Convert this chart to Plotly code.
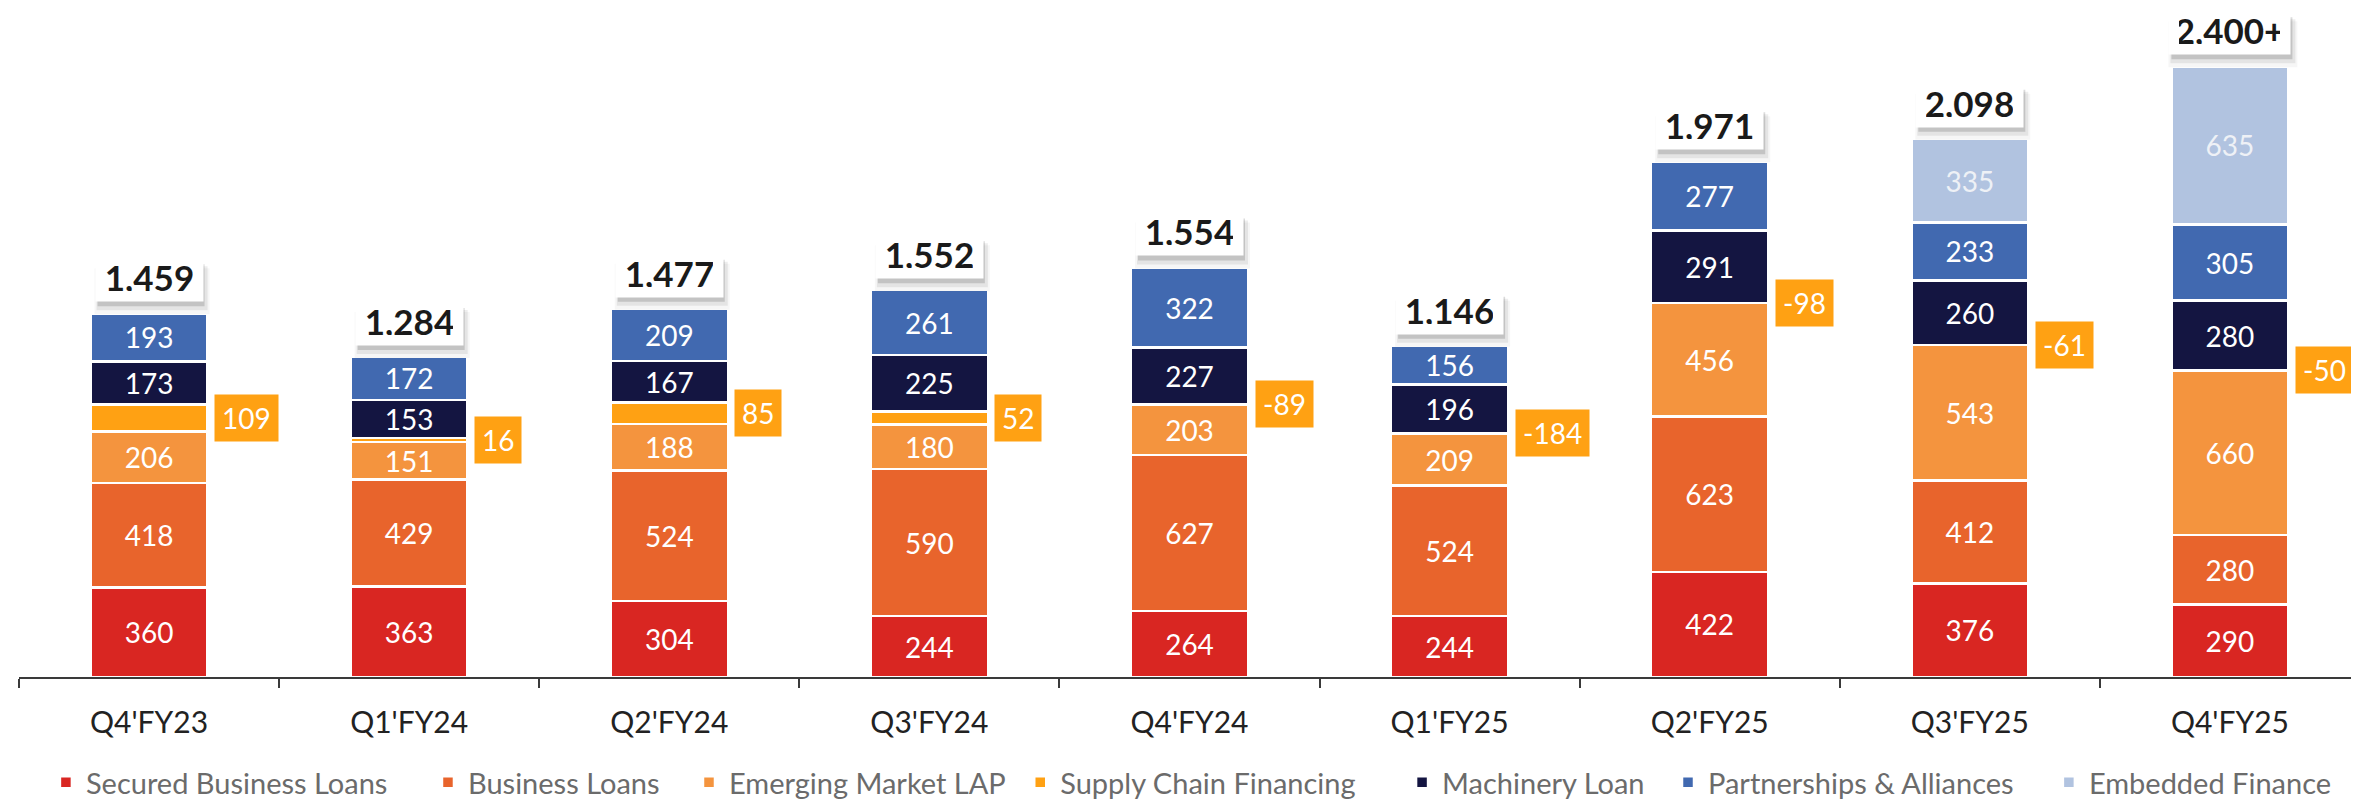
import plotly.graph_objects as go

categories = ["Q4'FY23", "Q1'FY24", "Q2'FY24", "Q3'FY24", "Q4'FY24",
              "Q1'FY25", "Q2'FY25", "Q3'FY25", "Q4'FY25"]
secured = [360, 363, 304, 244, 264, 244, 422, 376, 290]
business = [418, 429, 524, 590, 627, 524, 623, 412, 280]
em_lap = [206, 151, 188, 180, 203, 209, 456, 543, 660]
supply_chain = [109, 16, 85, 52, -89, -184, -98, -61, -50]
machinery = [173, 153, 167, 225, 227, 196, 291, 260, 280]
partnerships = [193, 172, 209, 261, 322, 156, 277, 233, 305]
embedded = [None, None, None, None, None, None, None, 335, 635]
total_labels = ["1,459", "1,284", "1,477", "1,552", "1,554", "1,146", "1,971", "2,098", "2,400+"]

FONT = "Lato"
colors = {
    "Secured Business Loans": "#D92622",
    "Business Loans": "#E8642C",
    "Emerging Market LAP": "#F4943E",
    "Supply Chain Financing": "#FFA113",
    "Machinery Loan": "#141541",
    "Partnerships & Alliances": "#4169B0",
    "Embedded Finance": "#B1C3E0",
}

supply_bar = [v if v > 0 else 0 for v in supply_chain]

series = [
    ("Secured Business Loans", secured, True, "white"),
    ("Business Loans", business, True, "white"),
    ("Emerging Market LAP", em_lap, True, "white"),
    ("Supply Chain Financing", supply_bar, False, "white"),
    ("Machinery Loan", machinery, True, "white"),
    ("Partnerships & Alliances", partnerships, True, "white"),
    ("Embedded Finance", embedded, True, "#EEF1F6"),
]

# legend entry positions (paper x of each legend block, left edge)
legend_x = [0.0115, 0.1747, 0.2862, 0.4277, 0.5908, 0.7044, 0.8671]

fig = go.Figure()
for k, (name, vals, show_text, tcolor) in enumerate(series):
    fig.add_trace(go.Bar(
        x=categories, y=vals, name=name,
        legend="legend" if k == 0 else f"legend{k + 1}",
        marker=dict(color=colors[name], line=dict(color="white", width=2.5)),
        text=[("" if v is None else str(v)) for v in vals] if show_text else None,
        textposition="inside" if show_text else "none",
        insidetextanchor="middle",
        textangle=0,
        constraintext="none",
        textfont=dict(family=FONT, size=28, color=tcolor),
        width=0.45,
        hoverinfo="skip",
    ))

annotations = []
shapes = []

# Supply chain labels to the right of bars
for i, c in enumerate(categories):
    base = secured[i] + business[i] + em_lap[i]
    v = supply_chain[i]
    ypos = base + v / 2 if v > 0 else base
    annotations.append(dict(
        x=c, y=ypos, xref="x", yref="y", text=str(v), showarrow=False,
        xanchor="left", yanchor="middle", xshift=65,
        bgcolor="#FFA113", borderpad=7, height=32,
        font=dict(family=FONT, size=28, color="white"),
    ))


def box_width(label):
    w = 22
    for ch in label:
        if ch.isdigit():
            w += 19
        elif ch == ",":
            w += 9
        else:
            w += 14
    return w


PAD = 10
BOX_H = 48
GAP = 11
for i, c in enumerate(categories):
    top = sum((s[i] or 0) for _, s, _, _ in series)
    w = box_width(total_labels[i])
    # soft drop shadow (pixel-sized rects anchored at the bar top)
    for dx, dy, grow, col in [(3, -8, 8, "rgba(0,0,0,0.035)"),
                              (3, -6, 4, "rgba(0,0,0,0.07)"),
                              (2, -4, 0, "rgba(0,0,0,0.14)")]:
        shapes.append(dict(
            type="rect", xref="x", yref="y", xsizemode="pixel", ysizemode="pixel",
            xanchor=i, yanchor=top,
            x0=-w / 2 + dx - grow / 2, x1=w / 2 + dx + grow / 2,
            y0=GAP + dy - grow / 2, y1=GAP + BOX_H + dy - 6,
            fillcolor=col, line=dict(width=0), layer="above",
        ))
    annotations.append(dict(
        x=c, y=top, xref="x", yref="y", text="<b>" + total_labels[i] + "</b>",
        showarrow=False, xanchor="center", yanchor="bottom",
        yshift=GAP, bgcolor="white", borderpad=PAD,
        width=w - 2 * PAD, height=BOX_H - 2 * PAD,
        font=dict(family=FONT, size=35, color="#1A1A1A"),
    ))

layout_legends = {}
for k, lx in enumerate(legend_x):
    key = "legend" if k == 0 else f"legend{k + 1}"
    layout_legends[key] = dict(
        orientation="h", x=lx, xanchor="left", y=-0.158, yanchor="middle",
        bgcolor="rgba(0,0,0,0)",
        font=dict(family=FONT, size=29, color="#6B6B6B"),
    )

fig.update_layout(
    barmode="stack",
    width=2359, height=800,
    margin=dict(l=11, r=7, t=0, b=123),
    paper_bgcolor="white", plot_bgcolor="white",
    annotations=annotations,
    shapes=shapes,
    xaxis=dict(type="category", range=[-0.5, 8.5], showline=True, linecolor="#3A3A3A",
               linewidth=2, ticks="outside", tickson="boundaries", ticklen=9,
               tickcolor="#3A3A3A", tickwidth=2, ticklabelstandoff=18,
               tickfont=dict(family=FONT, size=30, color="#222222"), showgrid=False),
    yaxis=dict(visible=False, range=[0, 2684], showgrid=False, zeroline=False),
    showlegend=True,
    **layout_legends,
)

fig.write_html("out.html")
